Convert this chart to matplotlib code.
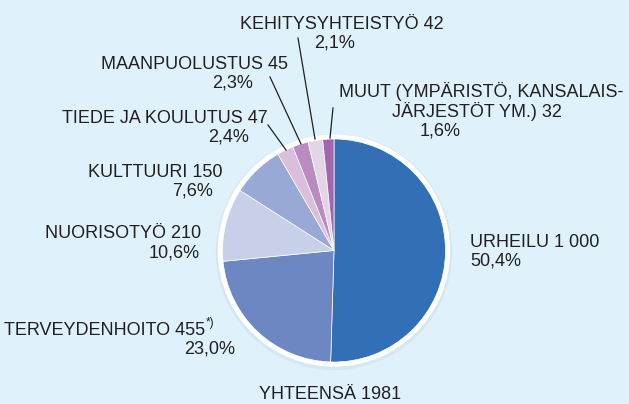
import matplotlib.pyplot as plt
from matplotlib.patches import Circle

plt.rcParams['font.family'] = ['Liberation Sans', 'DejaVu Sans']

# data, clockwise from 12 o'clock
categories = ["URHEILU", "TERVEYDENHOITO", "NUORISOTYÖ", "KULTTUURI",
              "TIEDE JA KOULUTUS", "MAANPUOLUSTUS", "KEHITYSYHTEISTYÖ", "MUUT"]
values = [1000, 455, 210, 150, 47, 45, 42, 32]
value_labels = ["1 000", "455", "210", "150", "47", "45", "42", "32"]
pct_labels = ["50,4%", "23,0%", "10,6%", "7,6%", "2,4%", "2,3%", "2,1%", "1,6%"]
total_label = "YHTEENSÄ 1981"

colors = ["#336fb6", "#6d87c3", "#c8cfe9", "#97a9d4",
          "#dbbddc", "#b98bc1", "#e3d4e7", "#a365ad"]
bg = "#dff2fc"
txt = "#231f20"
fs = 13

fig = plt.figure(figsize=(6.29, 4.04), dpi=100, facecolor=bg)
ax = fig.add_axes([0, 0, 1, 1])
ax.set_facecolor(bg)

cx, cy, r = 334, 250.5, 111.5
# soft shadow + white rim
ax.add_patch(Circle((cx, cy + 1.5), r + 6, color="#d4e7f2", zorder=0))
ax.add_patch(Circle((cx, cy), r + 4, color="white", zorder=1))

# y axis is inverted below, so counterclock in data = clockwise on screen
wedges, _ = ax.pie(values, colors=colors, startangle=-90, counterclock=True,
                   center=(cx, cy), radius=r,
                   wedgeprops=dict(edgecolor="white", linewidth=0.5, zorder=2))

ax.set_xlim(0, 629)
ax.set_ylim(404, 0)
ax.set_aspect("equal")
ax.axis("off")

# label layout: (name line x, baseline y, ha), (pct x, baseline y, ha)
layout = {
    "URHEILU": ((470, 247, "left"), (470, 265, "left")),
    "TERVEYDENHOITO": ((205, 335, "right"), (235, 353, "right")),
    "NUORISOTYÖ": ((201, 238, "right"), (200, 257, "right")),
    "KULTTUURI": ((222, 177, "right"), (213, 196, "right")),
    "TIEDE JA KOULUTUS": ((268, 123, "right"), (249, 141, "right")),
    "MAANPUOLUSTUS": ((288, 69, "right"), (253, 87, "right")),
    "KEHITYSYHTEISTYÖ": ((342, 29, "center"), (335, 47, "center")),
}

for name, val, pct in zip(categories, value_labels, pct_labels):
    if name == "MUUT":
        continue
    (x1, y1, h1), (x2, y2, h2) = layout[name]
    ax.text(x1, y1, f"{name} {val}", ha=h1, va="baseline", fontsize=fs, color=txt)
    ax.text(x2, y2, pct, ha=h2, va="baseline", fontsize=fs, color=txt)

# footnote mark after terveydenhoito
ax.text(206, 326, "*)", ha="left", va="baseline", fontsize=8.5, color=txt)

# muut gets a three line label
ax.text(481, 97, "MUUT (YMPÄRISTÖ, KANSALAIS-", ha="center", va="baseline",
        fontsize=fs, color=txt)
ax.text(477, 117, f"JÄRJESTÖT YM.) {value_labels[7]}", ha="center", va="baseline",
        fontsize=fs, color=txt)
ax.text(440, 135, pct_labels[7], ha="center", va="baseline", fontsize=fs, color=txt)

# leader lines for the small slices
leaders = [((268, 125), (286, 150)),
           ((270, 77), (301, 144)),
           ((298, 38), (315, 139)),
           ((333, 108), (330, 138))]
for (x0, y0), (x1, y1) in leaders:
    ax.plot([x0, x1], [y0, y1], color=txt, lw=0.9, zorder=3)

ax.text(330, 399, total_label, ha="center", va="baseline", fontsize=fs, color=txt)

fig.savefig("out.png", dpi=100, facecolor=bg)
